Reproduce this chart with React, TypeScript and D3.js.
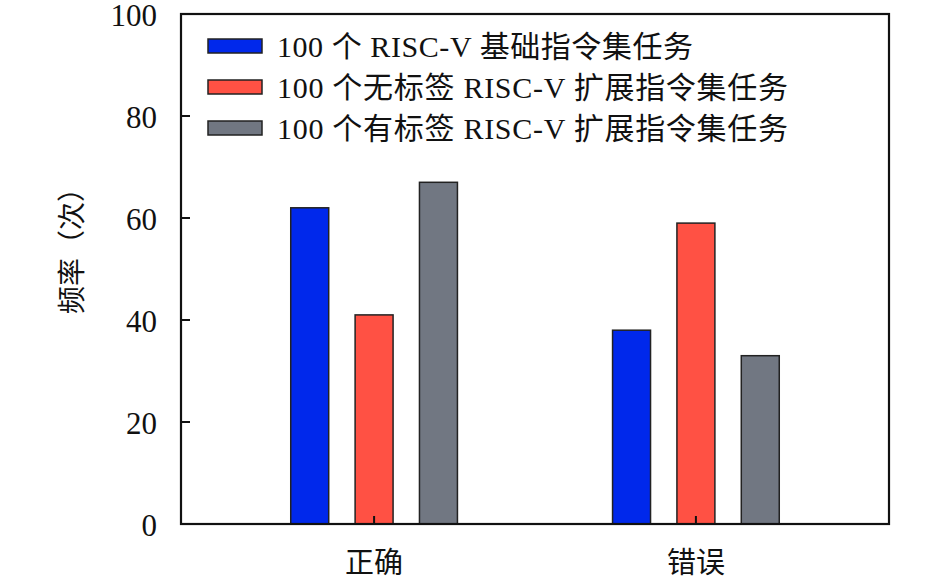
import { useMemo } from 'react';
import * as d3 from 'd3';

const categories = ['正确', '错误'];
const seriesNames = [
  '100 个 RISC-V 基础指令集任务',
  '100 个无标签 RISC-V 扩展指令集任务',
  '100 个有标签 RISC-V 扩展指令集任务',
];
const seriesColors = ['#0028EB', '#FF5144', '#717782'];
const basicValues = [62, 38];
const unlabeledValues = [41, 59];
const labeledValues = [67, 33];
const yTicks = [0, 20, 40, 60, 80, 100];

const width = 945;
const height = 579;
const font = "'Liberation Serif', 'Times New Roman', 'Noto Sans CJK SC', serif";
// rendered widths of the legend lines in the source figure
const legendTextWidths = [416, 511, 511];

export default function App() {
  const series = [basicValues, unlabeledValues, labeledValues];

  const x = useMemo(() => d3.scaleLinear().domain([0.4, 2.6]).range([181, 889]), []);
  const y = useMemo(() => d3.scaleLinear().domain([0, 100]).range([524, 14]), []);

  const barWidth = x(0.118) - x(0);
  const [x0, x1] = x.range();
  const [y0, y1] = y.range();

  return (
    <svg
      width={width}
      height={height}
      viewBox={`0 0 ${width} ${height}`}
      style={{ position: 'absolute', left: 0, top: 0, background: '#fff' }}
      fontFamily={font}
    >
      {/* bars */}
      {series.map((vals, si) =>
        vals.map((v, ci) => {
          const cx = x(ci + 1 + (si - 1) * 0.2);
          return (
            <rect
              key={`${si}-${ci}`}
              x={cx - barWidth / 2}
              y={y(v)}
              width={barWidth}
              height={y(0) - y(v)}
              fill={seriesColors[si]}
              stroke="#222"
              strokeWidth={1.5}
            />
          );
        })
      )}

      {/* frame */}
      <rect x={x0} y={y1} width={x1 - x0} height={y0 - y1} fill="none" stroke="#111" strokeWidth={2.2} />

      {/* y ticks */}
      {yTicks.map((t) => (
        <g key={t}>
          <line x1={x0} x2={x0 + 9} y1={y(t)} y2={y(t)} stroke="#111" strokeWidth={2} />
          <text x={157} y={y(t) + 1.5} textAnchor="end" dominantBaseline="central" fontSize={31} fill="#111">
            {t}
          </text>
        </g>
      ))}

      {/* x ticks */}
      {categories.map((c, ci) => (
        <g key={c}>
          <line x1={x(ci + 1)} x2={x(ci + 1)} y1={y0} y2={y0 - 8} stroke="#111" strokeWidth={2} />
          <text x={x(ci + 1)} y={573} textAnchor="middle" fontSize={29} fill="#111">
            {c}
          </text>
        </g>
      ))}

      {/* y label */}
      <text
        transform={`translate(82,244) rotate(-90)`}
        textAnchor="middle"
        fontSize={28}
        fill="#111"
      >
        频率（次）
      </text>

      {/* legend */}
      {seriesNames.map((name, i) => {
        const ly = 46 + i * 41;
        return (
          <g key={name}>
            <rect x={208} y={ly - 7} width={54} height={14} fill={seriesColors[i]} stroke="#222" strokeWidth={1.5} />
            <text
              x={277}
              y={ly}
              dominantBaseline="central"
              fontSize={30}
              fill="#111"
              textLength={legendTextWidths[i]}
              lengthAdjust="spacing"
            >
              {name}
            </text>
          </g>
        );
      })}
    </svg>
  );
}
